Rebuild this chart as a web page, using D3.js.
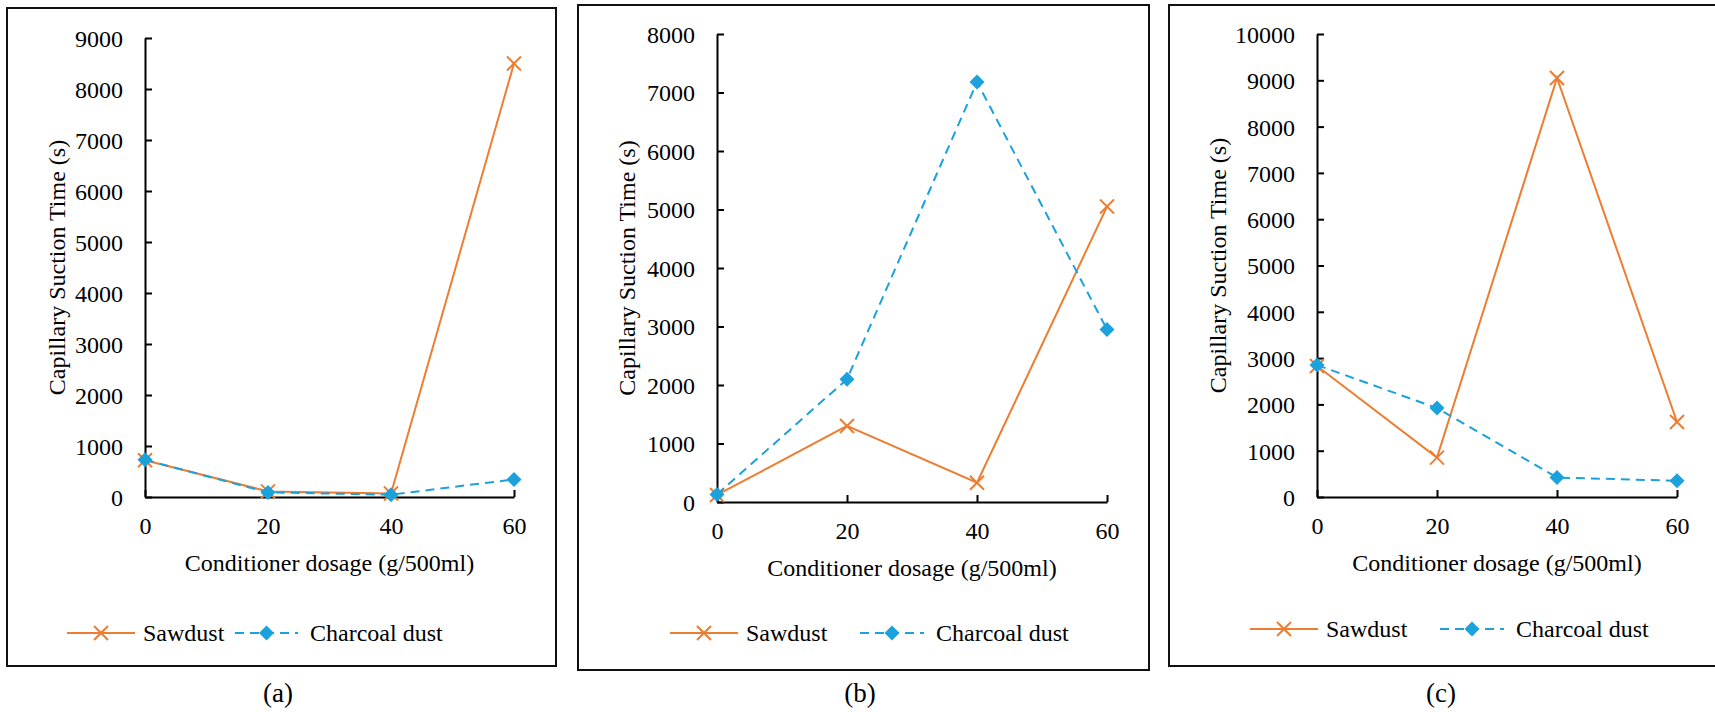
<!DOCTYPE html>
<html>
<head>
<meta charset="utf-8">
<script src="https://cdn.jsdelivr.net/npm/d3@7"></script>
<style>
  html, body { margin: 0; padding: 0; background: #fff; }
  svg { display: block; }
</style>
</head>
<body>
<svg id="fig" width="1715" height="712"></svg>
<script>
// Conditioner dosages (g/500ml) shared by all three panels
const dosages = [0, 20, 40, 60];
const xTicks = [0, 20, 40, 60];

// Capillary suction time (s) per panel
const sawdustA  = [720, 110, 70, 8500];
const charcoalA = [730, 90, 45, 345];
const sawdustB  = [120, 1300, 330, 5050];
const charcoalB = [130, 2100, 7180, 2950];
const sawdustC  = [2830, 850, 9050, 1620];
const charcoalC = [2850, 1920, 420, 350];

// Y-axis tick values per panel
const yTicksA = [0, 1000, 2000, 3000, 4000, 5000, 6000, 7000, 8000, 9000];
const yTicksB = [0, 1000, 2000, 3000, 4000, 5000, 6000, 7000, 8000];
const yTicksC = [0, 1000, 2000, 3000, 4000, 5000, 6000, 7000, 8000, 9000, 10000];

const seriesNames = ["Sawdust", "Charcoal dust"];
const panelLabels = ["(a)", "(b)", "(c)"];
const xTitle = "Conditioner dosage (g/500ml)";
const yTitle = "Capillary Suction Time (s)";

const ORANGE = "#ED7D31";
const BLUE = "#1BA1DC";
const FONT = 24;
const SERIF = "'Liberation Serif', 'Times New Roman'";

// Layout of each panel: frame box, plot range, legend placement
const layout = [
  { frame: [7, 8, 556, 666], x: [145, 514], y: [497, 38], yTitleX: 57,
    legY: 633, leg: [[67, 135, 143], [235, 298, 310]], labelX: 278 },
  { frame: [578, 5, 1149, 670], x: [717, 1107], y: [502, 34], yTitleX: 627,
    legY: 633, leg: [[670, 738, 746], [860, 924, 936]], labelX: 860 },
  { frame: [1169, 5, 1718, 666], x: [1317, 1677], y: [497, 34], yTitleX: 1218,
    legY: 629, leg: [[1250, 1318, 1326], [1440, 1504, 1516]], labelX: 1441 }
];

const panels = [
  { saw: sawdustA, char: charcoalA, yTicks: yTicksA },
  { saw: sawdustB, char: charcoalB, yTicks: yTicksB },
  { saw: sawdustC, char: charcoalC, yTicks: yTicksC }
];

const svg = d3.select("#fig");

function drawX(g, cx, cy, r, color) {
  g.append("path")
    .attr("d", `M${cx - r},${cy - r}L${cx + r},${cy + r}M${cx - r},${cy + r}L${cx + r},${cy - r}`)
    .attr("stroke", color).attr("stroke-width", 2).attr("fill", "none");
}
function drawDiamond(g, cx, cy, r, color) {
  g.append("path")
    .attr("d", `M${cx},${cy - r}L${cx + r},${cy}L${cx},${cy + r}L${cx - r},${cy}Z`)
    .attr("fill", color);
}
function label(sel, size) {
  return sel.style("font-family", SERIF).attr("font-size", size).attr("fill", "#000");
}

panels.forEach((p, i) => {
  const L = layout[i];
  const g = svg.append("g");

  // frame
  g.append("rect")
    .attr("x", L.frame[0]).attr("y", L.frame[1])
    .attr("width", L.frame[2] - L.frame[0]).attr("height", L.frame[3] - L.frame[1])
    .attr("fill", "none").attr("stroke", "#111").attr("stroke-width", 2);

  const yMax = p.yTicks[p.yTicks.length - 1];
  const x = d3.scaleLinear().domain([0, 60]).range(L.x);
  const y = d3.scaleLinear().domain([0, yMax]).range(L.y);

  // y axis
  const ya = g.append("g").attr("transform", `translate(${L.x[0]},0)`)
    .call(d3.axisLeft(y).tickValues(p.yTicks).tickFormat(d3.format("d"))
      .tickSizeInner(-7).tickSizeOuter(0).tickPadding(22));
  // x axis
  const xa = g.append("g").attr("transform", `translate(0,${L.y[0]})`)
    .call(d3.axisBottom(x).tickValues(xTicks).tickFormat(d3.format("d"))
      .tickSizeInner(-7).tickSizeOuter(0));
  [ya, xa].forEach(a => {
    a.attr("font-family", null);
    a.selectAll(".domain").attr("stroke", "#000").attr("stroke-width", 2);
    a.selectAll(".tick line").attr("stroke", "#000").attr("stroke-width", 2);
    label(a.selectAll("text"), FONT);
  });
  ya.selectAll("text").attr("dy", "0.35em");
  xa.selectAll("text").attr("y", 29).attr("dy", "0.35em");

  // axis titles
  label(g.append("text"), FONT)
    .attr("x", (L.x[0] + L.x[1]) / 2).attr("y", L.y[0] + 66)
    .attr("text-anchor", "middle").attr("dy", "0.35em")
    .text(xTitle);
  label(g.append("text"), FONT)
    .attr("transform", `translate(${L.yTitleX},${(L.y[0] + L.y[1]) / 2}) rotate(-90)`)
    .attr("text-anchor", "middle").attr("dy", "0.35em")
    .text(yTitle);

  // series
  const line = d3.line().x((d, j) => x(dosages[j])).y(d => y(d));
  g.append("path").datum(p.saw).attr("d", line)
    .attr("fill", "none").attr("stroke", ORANGE).attr("stroke-width", 2);
  p.saw.forEach((v, j) => drawX(g, x(dosages[j]), y(v), 7, ORANGE));

  g.append("path").datum(p.char).attr("d", line)
    .attr("fill", "none").attr("stroke", BLUE).attr("stroke-width", 2)
    .attr("stroke-dasharray", "9,6");
  p.char.forEach((v, j) => drawDiamond(g, x(dosages[j]), y(v), 7.5, BLUE));

  // legend
  const [s, c] = L.leg;
  g.append("line").attr("x1", s[0]).attr("x2", s[1]).attr("y1", L.legY).attr("y2", L.legY)
    .attr("stroke", ORANGE).attr("stroke-width", 2);
  drawX(g, (s[0] + s[1]) / 2, L.legY, 7, ORANGE);
  label(g.append("text"), FONT).attr("x", s[2]).attr("y", L.legY).attr("dy", "0.35em")
    .text(seriesNames[0]);
  g.append("line").attr("x1", c[0]).attr("x2", c[1]).attr("y1", L.legY).attr("y2", L.legY)
    .attr("stroke", BLUE).attr("stroke-width", 2).attr("stroke-dasharray", "9,6");
  drawDiamond(g, (c[0] + c[1]) / 2, L.legY, 7.5, BLUE);
  label(g.append("text"), FONT).attr("x", c[2]).attr("y", L.legY).attr("dy", "0.35em")
    .text(seriesNames[1]);

  // panel label
  label(svg.append("text"), 27).attr("x", L.labelX).attr("y", 693).attr("dy", "0.35em")
    .attr("text-anchor", "middle").text(panelLabels[i]);
});
</script>
</body>
</html>
